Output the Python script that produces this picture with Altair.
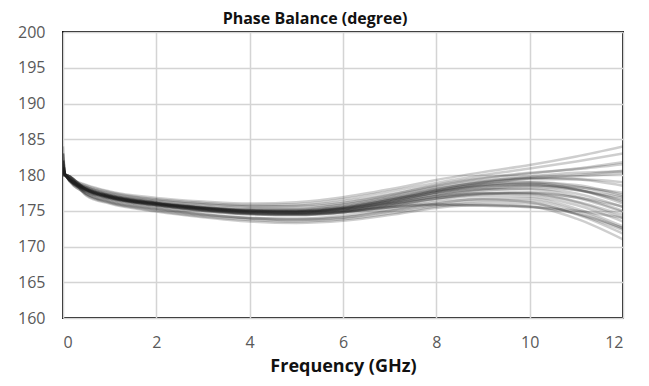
import altair as alt
import pandas as pd

freq_ghz = [0, 0.05, 0.5, 1, 2, 3, 4, 5, 6, 7, 8, 9, 10, 11, 12]

c01 = [184.0, 180, 178.6, 177.7, 176.8, 176.3, 176.0, 176.2, 176.9, 178.0, 179.3, 180.4, 181.4, 182.6, 184.0]
c02 = [183.0, 180, 178.5, 177.6, 176.6, 176.1, 175.8, 175.9, 176.6, 177.7, 178.9, 180.0, 180.9, 181.9, 183.0]
c03 = [182.0, 180, 178.3, 177.3, 176.4, 175.9, 175.6, 175.7, 176.3, 177.3, 178.5, 179.5, 180.2, 180.9, 181.8]
c04 = [181.0, 180, 178.1, 177.1, 176.1, 175.5, 175.2, 175.2, 175.8, 176.9, 178.1, 179.0, 179.6, 180.0, 180.6]
c05 = [180.5, 180, 178.2, 177.2, 176.2, 175.5, 175.1, 175.0, 175.5, 176.6, 177.9, 178.9, 179.4, 179.4, 179.0]
c06 = [182.0, 180, 178.0, 177.0, 176.0, 175.4, 175.0, 174.9, 175.3, 176.3, 177.6, 178.6, 179.0, 178.6, 177.2]
c07 = [181.0, 180, 178.0, 177.0, 176.0, 175.3, 174.9, 174.8, 175.2, 176.2, 177.5, 178.4, 178.8, 178.0, 176.0]
c08 = [183.0, 180, 178.1, 177.1, 176.1, 175.4, 175.0, 174.9, 175.3, 176.3, 177.6, 178.5, 178.7, 178.0, 176.3]
c09 = [180.0, 180, 177.9, 176.9, 175.9, 175.2, 174.8, 174.7, 175.0, 175.9, 177.0, 177.8, 178.1, 177.4, 175.5]
c10 = [181.0, 180, 177.8, 176.8, 175.8, 175.1, 174.6, 174.5, 174.8, 175.6, 176.7, 177.4, 177.6, 176.8, 174.8]
c11 = [182.0, 180, 177.9, 176.9, 175.9, 175.2, 174.7, 174.6, 175.0, 175.9, 177.1, 178.0, 178.5, 178.3, 177.5]
c12 = [180.0, 180, 177.7, 176.7, 175.7, 175.0, 174.5, 174.4, 174.7, 175.5, 176.5, 177.1, 177.0, 175.8, 173.5]
c13 = [181.0, 180, 177.4, 176.3, 175.3, 174.5, 174.0, 173.8, 174.1, 175.0, 176.0, 176.7, 176.7, 175.3, 172.8]
c14 = [180.0, 180, 177.2, 176.1, 175.0, 174.2, 173.7, 173.5, 173.8, 174.6, 175.6, 176.1, 176.0, 174.5, 171.8]
c15 = [180.0, 180, 177.1, 176.0, 174.9, 174.1, 173.5, 173.3, 173.6, 174.4, 175.4, 175.8, 175.6, 173.9, 171.0]
c16 = [181.0, 180, 177.4, 176.4, 175.3, 174.5, 174.0, 173.9, 174.3, 175.2, 176.2, 176.6, 176.2, 174.6, 172.3]
c17 = [182.0, 180, 177.8, 176.8, 175.8, 175.1, 174.6, 174.5, 174.8, 175.5, 175.9, 175.8, 175.6, 174.6, 172.6]
c18 = [181.0, 180, 177.8, 176.8, 175.8, 175.1, 174.7, 174.6, 174.9, 175.5, 175.8, 175.7, 175.5, 175.0, 174.0]
c19 = [180.0, 180, 178.0, 177.0, 176.0, 175.4, 175.0, 175.0, 175.5, 176.5, 177.8, 178.8, 179.5, 179.8, 180.2]
c20 = [182.0, 180, 178.3, 177.4, 176.5, 175.9, 175.6, 175.6, 176.1, 177.2, 178.6, 179.6, 180.3, 180.8, 181.5]
c21 = [181.0, 180, 178.0, 177.0, 176.0, 175.4, 175.0, 174.9, 175.4, 176.5, 177.8, 178.7, 179.0, 178.4, 177.0]
c22 = [180.5, 180, 177.9, 176.9, 175.9, 175.3, 174.9, 174.8, 175.2, 176.2, 177.3, 178.0, 178.0, 177.0, 175.0]
c23 = [182.0, 180, 177.7, 176.7, 175.7, 175.0, 174.6, 174.5, 174.9, 175.8, 176.8, 177.4, 177.3, 176.2, 174.0]
c24 = [181.0, 180, 177.6, 176.6, 175.6, 174.9, 174.5, 174.4, 174.8, 175.7, 176.7, 177.3, 177.5, 176.9, 175.6]
c25 = [180.0, 180, 178.0, 177.0, 176.0, 175.3, 174.9, 174.8, 175.2, 176.1, 177.3, 178.1, 178.4, 177.9, 176.8]
c26 = [181.5, 180, 178.1, 177.1, 176.1, 175.5, 175.1, 175.1, 175.6, 176.7, 178.0, 179.1, 179.8, 180.3, 180.5]
c27 = [180.0, 180, 177.3, 176.2, 175.2, 174.4, 173.9, 173.7, 174.0, 174.9, 175.8, 176.4, 176.4, 175.0, 172.5]
c28 = [183.0, 180, 178.0, 177.0, 176.0, 175.3, 174.9, 174.9, 175.4, 176.5, 177.7, 178.4, 178.6, 177.9, 176.5]
c29 = [180.0, 180, 177.9, 176.9, 175.9, 175.2, 174.8, 174.7, 175.1, 176.0, 177.0, 177.5, 177.4, 176.3, 174.4]
c30 = [181.0, 180, 178.2, 177.2, 176.2, 175.6, 175.3, 175.3, 175.9, 177.0, 178.3, 179.2, 179.6, 179.4, 178.5]

curves = [c01, c02, c03, c04, c05, c06, c07, c08, c09, c10,
          c11, c12, c13, c14, c15, c16, c17, c18, c19, c20,
          c21, c22, c23, c24, c25, c26, c27, c28, c29, c30]

rows = []
for i, c in enumerate(curves):
    for f, v in zip(freq_ghz, c):
        rows.append({"run": f"r{i+1}", "freq": f, "phase": v})
df = pd.DataFrame(rows)

x_ticks = [0, 2, 4, 6, 8, 10, 12]
y_ticks = [160, 165, 170, 175, 180, 185, 190, 195, 200]

FONT = "Open Sans"

chart = alt.Chart(df).mark_line(
    color="#222222", opacity=0.22, strokeWidth=2.5, interpolate="monotone", clip=True
).encode(
    x=alt.X("freq:Q", scale=alt.Scale(domain=[0, 12], nice=False),
            axis=alt.Axis(values=x_ticks, title="Frequency (GHz)", format="d")),
    y=alt.Y("phase:Q", scale=alt.Scale(domain=[160, 200], nice=False, zero=False),
            axis=alt.Axis(values=y_ticks, title=None, format="d")),
    detail="run:N",
).properties(
    width=560, height=286,
    title=alt.TitleParams("Phase Balance (degree)", font=FONT, fontSize=16,
                          fontWeight="bold", color="#111111", offset=-3, dx=-28),
    autosize=alt.AutoSizeParams(type="none"),
    padding={"left": 55, "top": 24, "right": 18, "bottom": 60},
).configure_view(
    stroke="#111111", strokeWidth=2
).configure_axis(
    grid=True, gridColor="#d4d4d4", gridWidth=1.5, domain=False, ticks=False,
    labelFont=FONT, labelFontSize=16, labelColor="#595959",
    titleFont=FONT, titleFontSize=18, titleColor="#111111", titleFontWeight="bold",
).configure_axisY(
    labelPadding=18
).configure_axisX(
    labelPadding=16, titlePadding=7
)

chart.save("out.html", embed_options={"renderer": "svg", "actions": False})
